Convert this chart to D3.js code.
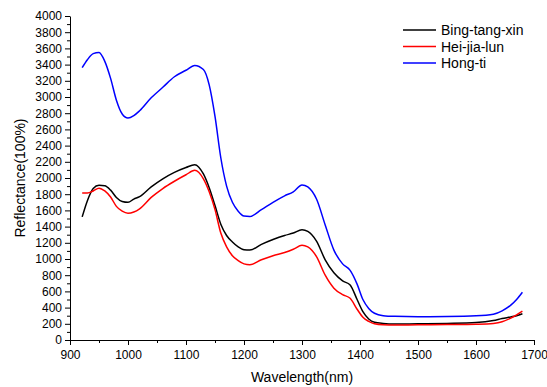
<!DOCTYPE html>
<html>
<head>
<meta charset="utf-8">
<script src="https://cdn.jsdelivr.net/npm/d3@7"></script>
<style>
  body { margin: 0; background: #fff; }
  svg { display: block; font-family: Arial, "Liberation Sans", sans-serif; }
</style>
</head>
<body>
<svg id="chart" width="547" height="387"></svg>
<script>
// wavelength (nm) shared by all three spectra
const wavelengths = [921, 930, 940, 950, 960, 970, 980, 990, 1000, 1010, 1020, 1040, 1060, 1080, 1100, 1115,
  1130, 1140, 1150, 1160, 1170, 1180, 1190, 1200, 1210, 1230, 1250, 1270, 1285, 1300, 1310, 1325, 1340, 1355,
  1370, 1383, 1395, 1405, 1415, 1425, 1440, 1460, 1500, 1550, 1600, 1630, 1645, 1660, 1670, 1680];

const bingTangXin = [1520, 1720, 1870, 1910, 1905, 1850, 1760, 1710, 1700, 1740, 1770, 1890, 1990, 2070, 2130, 2165,
  2050, 1880, 1660, 1430, 1290, 1210, 1150, 1115, 1110, 1180, 1240, 1290, 1320, 1360, 1340, 1220, 990, 830,
  730, 680, 500, 350, 260, 220, 205, 198, 200, 205, 215, 240, 265, 285, 300, 325];

const heiJiaLun = [1815, 1815, 1840, 1875, 1840, 1765, 1650, 1590, 1565, 1580, 1620, 1760, 1870, 1960, 2040, 2095,
  1990, 1830, 1610, 1320, 1150, 1040, 980, 940, 930, 990, 1040, 1080, 1120, 1170, 1150, 1030, 800, 640,
  560, 515, 380, 280, 230, 200, 188, 185, 187, 190, 195, 205, 225, 270, 310, 355];

const hongTi = [3362, 3460, 3535, 3550, 3440, 3230, 2960, 2790, 2740, 2770, 2830, 2990, 3120, 3250, 3330, 3390,
  3340, 3150, 2760, 2250, 1900, 1700, 1590, 1530, 1525, 1610, 1700, 1780, 1830, 1915, 1890, 1740, 1420, 1110,
  940, 860, 690, 500, 390, 330, 300, 292, 288, 290, 298, 318, 360, 430, 500, 590];

const seriesNames = ['Bing-tang-xin', 'Hei-jia-lun', 'Hong-ti'];
const seriesColors = ['#000000', '#ff0000', '#0000ff'];
const xTicks = [900, 1000, 1100, 1200, 1300, 1400, 1500, 1600, 1700];
const yTicks = d3.range(0, 4001, 200);

const series = [bingTangXin, heiJiaLun, hongTi].map((values, i) => ({
  name: seriesNames[i],
  color: seriesColors[i],
  points: values.map((v, j) => [wavelengths[j], v])
}));

const svg = d3.select('#chart');
const plot = { left: 70, right: 534, top: 16, bottom: 340 };

const x = d3.scaleLinear().domain([900, 1700]).range([plot.left, plot.right]);
const y = d3.scaleLinear().domain([0, 4000]).range([plot.bottom, plot.top]);

// minor ticks first, then main axes on top
svg.append('g')
  .attr('transform', `translate(0,${plot.bottom})`)
  .call(d3.axisBottom(x).tickValues(d3.range(950, 1700, 100)).tickSize(3).tickFormat(''))
  .call(g => g.select('.domain').remove());

svg.append('g')
  .attr('transform', `translate(${plot.left},0)`)
  .call(d3.axisLeft(y).tickValues(d3.range(100, 4000, 200)).tickSize(3).tickFormat(''))
  .call(g => g.select('.domain').remove());

const xAxis = svg.append('g')
  .attr('transform', `translate(0,${plot.bottom})`)
  .call(d3.axisBottom(x).tickValues(xTicks).tickSize(5).tickSizeOuter(0).tickPadding(5).tickFormat(d3.format('d')));

const yAxis = svg.append('g')
  .attr('transform', `translate(${plot.left},0)`)
  .call(d3.axisLeft(y).tickValues(yTicks).tickSize(5).tickSizeOuter(0).tickPadding(3).tickFormat(d3.format('d')));

[xAxis, yAxis].forEach(g => {
  g.selectAll('text').attr('font-size', 12).attr('fill', '#000').attr('font-family', 'Arial, "Liberation Sans", sans-serif');
  g.selectAll('line, path').attr('stroke', '#000');
});
svg.selectAll('.tick line').attr('stroke', '#000');

const line = d3.line()
  .x(d => x(d[0]))
  .y(d => y(d[1]))
  .curve(d3.curveMonotoneX);

svg.selectAll('path.spectrum')
  .data(series)
  .join('path')
  .attr('class', 'spectrum')
  .attr('fill', 'none')
  .attr('stroke', d => d.color)
  .attr('stroke-width', 1.5)
  .attr('stroke-linejoin', 'round')
  .attr('d', d => line(d.points));

// axis titles
svg.append('text')
  .attr('x', (plot.left + plot.right) / 2)
  .attr('y', 382)
  .attr('text-anchor', 'middle')
  .attr('font-size', 14)
  .text('Wavelength(nm)');

svg.append('text')
  .attr('transform', `translate(25,${(plot.top + plot.bottom) / 2}) rotate(-90)`)
  .attr('text-anchor', 'middle')
  .attr('font-size', 14)
  .text('Reflectance(100%)');

// legend
const legend = svg.append('g')
  .selectAll('g')
  .data(series)
  .join('g')
  .attr('transform', (d, i) => `translate(403,${30 + i * 16.5})`);

legend.append('line')
  .attr('x1', 0).attr('x2', 33)
  .attr('stroke', d => d.color)
  .attr('stroke-width', 1.5);

legend.append('text')
  .attr('x', 38)
  .attr('y', 5)
  .attr('font-size', 14)
  .text(d => d.name);
</script>
</body>
</html>
